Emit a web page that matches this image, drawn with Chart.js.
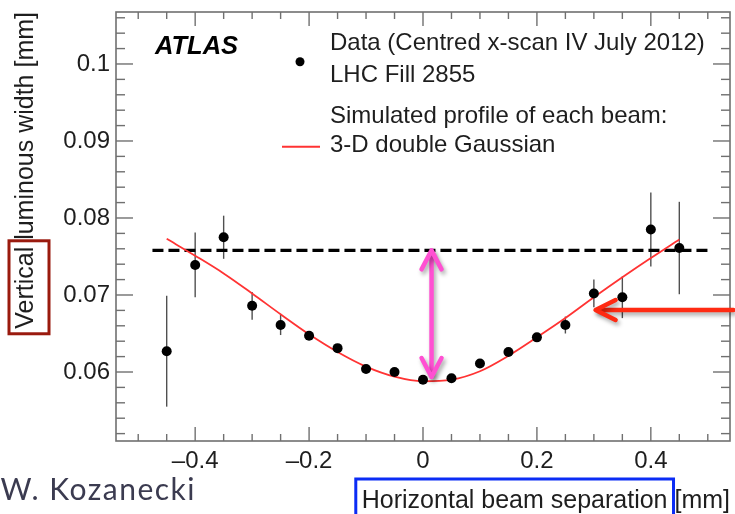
<!DOCTYPE html>
<html>
<head>
<meta charset="utf-8">
<script src="https://cdn.jsdelivr.net/npm/chart.js@4.4.1/dist/chart.umd.min.js"></script>
<style>
  html, body { margin: 0; padding: 0; background: #ffffff; }
  canvas { display: block; }
</style>
</head>
<body>
<canvas id="chart" width="735" height="514"></canvas>
<script>
// Horizontal beam separation of each scan step [mm]
const separation = [-0.45, -0.40, -0.35, -0.30, -0.25, -0.20, -0.15, -0.10, -0.05, 0.00,
                    0.05, 0.10, 0.15, 0.20, 0.25, 0.30, 0.35, 0.40, 0.45];
// Measured vertical luminous width [mm]
const measuredWidth = [0.0627, 0.0739, 0.0775, 0.0686, 0.0661, 0.0647, 0.0631, 0.0604, 0.0600, 0.0590,
                       0.0592, 0.0611, 0.0626, 0.0645, 0.0661, 0.0702, 0.0697, 0.0785, 0.0761];
// Statistical uncertainty on each measurement [mm]
const widthError = [0.0072, 0.0042, 0.0028, 0.0018, 0.0013, 0.0004, 0.0003, 0.0002, 0.0002, 0.0002,
                    0.0002, 0.0002, 0.0003, 0.0004, 0.0011, 0.0018, 0.0027, 0.0048, 0.0060];
// Simulated width for a 3-D double Gaussian beam profile [mm]
const simulatedWidth = [0.0773, 0.0751, 0.0728, 0.0702, 0.0675, 0.0649, 0.0626, 0.0607, 0.0594, 0.0588,
                        0.0590, 0.0601, 0.0621, 0.0645, 0.0670, 0.0697, 0.0723, 0.0748, 0.0772];
// Reference width level (dashed) and its extent in separation
const plateauSpan = [-0.475, 0.505];
const plateauLevel = 0.0758;
// Double arrow: drop of the width from the reference level to the minimum
const dropArrowX = 0.015;
const dropArrowRange = [0.0758, 0.05935];
// Pointer toward the simulated curve
const pointerX = [0.545, 0.303];
const pointerY = 0.06805;
// Labelled ticks
const xTickLabels = [-0.4, -0.2, 0, 0.2, 0.4];
const yTickLabels = [0.06, 0.07, 0.08, 0.09, 0.1];

const FONT = '"Liberation Sans", Arial, Helvetica, sans-serif';
const X_TITLE = 'Horizontal beam separation [mm]';
const Y_TITLE = 'Vertical luminous width [mm]';
const X_TITLE_SIZE = 25;
const Y_TITLE_SIZE = 25;

function fmtX(v) {
  const r = Math.round(v * 10) / 10;
  if (r === 0) return '0';
  return (r < 0 ? '\u2013' : '') + Math.abs(r).toString();
}
function fmtY(v) {
  return (Math.round(v * 100) / 100).toString();
}

function seg(ctx, x0, y0, x1, y1) {
  ctx.beginPath(); ctx.moveTo(x0, y0); ctx.lineTo(x1, y1); ctx.stroke();
}

function arrowHead(ctx, tx, ty, dirx, diry, back, spread) {
  // dir = unit vector pointing from the tip back along the shaft
  const px = -diry, py = dirx;
  ctx.beginPath();
  ctx.moveTo(tx + dirx * back + px * spread, ty + diry * back + py * spread);
  ctx.lineTo(tx, ty);
  ctx.lineTo(tx + dirx * back - px * spread, ty + diry * back - py * spread);
  ctx.stroke();
}

const decorations = {
  id: 'decorations',
  beforeDatasetsDraw(chart) {
    const { ctx, scales: { x, y } } = chart;
    ctx.save();
    ctx.strokeStyle = '#505050';
    ctx.lineWidth = 1.4;
    separation.forEach((sx, i) => {
      const px = x.getPixelForValue(sx);
      seg(ctx, px, y.getPixelForValue(measuredWidth[i] - widthError[i]),
               px, y.getPixelForValue(measuredWidth[i] + widthError[i]));
    });
    ctx.restore();
  },
  afterDraw(chart) {
    const { ctx, chartArea: a, scales: { x, y } } = chart;
    ctx.save();

    // Frame with inward ticks on all four sides
    ctx.strokeStyle = '#707070';
    ctx.lineWidth = 1.6;
    ctx.strokeRect(a.left, a.top, a.right - a.left, a.bottom - a.top);
    ctx.lineWidth = 1.4;
    const yMinor = 0.002, yMajor = 0.01;
    for (let k = Math.ceil(y.min / yMinor - 1e-6); k * yMinor <= y.max + 1e-9; k++) {
      const v = k * yMinor;
      const major = Math.abs(v / yMajor - Math.round(v / yMajor)) < 1e-6;
      const len = major ? 17 : 9;
      const py = y.getPixelForValue(v);
      seg(ctx, a.left, py, a.left + len, py);
      seg(ctx, a.right, py, a.right - len, py);
    }
    const xMinor = 0.05, xMajor = 0.2;
    for (let k = Math.ceil(x.min / xMinor - 1e-6); k * xMinor <= x.max + 1e-9; k++) {
      const v = k * xMinor;
      const major = Math.abs(v / xMajor - Math.round(v / xMajor)) < 1e-6;
      const len = major ? 14 : 7;
      const px = x.getPixelForValue(v);
      seg(ctx, px, a.bottom, px, a.bottom - len);
      seg(ctx, px, a.top, px, a.top + len);
    }

    // ATLAS label
    ctx.fillStyle = '#000';
    ctx.font = 'italic bold 25.5px ' + FONT;
    ctx.textBaseline = 'alphabetic';
    ctx.textAlign = 'left';
    ctx.fillText('ATLAS', 155, 54);

    // Legend
    ctx.font = '24px ' + FONT;
    ctx.fillStyle = '#1e1e1e';
    ctx.fillText('Data (Centred x-scan IV July 2012)', 330, 50);
    ctx.fillText('LHC Fill 2855', 330, 81.5);
    ctx.fillText('Simulated profile of each beam:', 330, 122.5);
    ctx.fillText('3-D double Gaussian', 330, 151.5);
    ctx.fillStyle = '#000';
    ctx.beginPath(); ctx.arc(300, 61.7, 4.5, 0, Math.PI * 2); ctx.fill();
    ctx.strokeStyle = '#ff3333';
    ctx.lineWidth = 2;
    seg(ctx, 282, 146.7, 320, 146.7);

    // Highlight box around "Vertical" in the y title
    ctx.font = Y_TITLE_SIZE + 'px ' + FONT;
    const wY = ctx.measureText(Y_TITLE).width;
    const wV = ctx.measureText('Vertical').width;
    const yStart = y.top + wY;
    ctx.strokeStyle = '#9a1a0e';
    ctx.lineWidth = 3;
    ctx.strokeRect(9, yStart - wV - 6, 40, wV + 11);

    // Highlight box around "Horizontal beam separation" in the x title
    ctx.font = X_TITLE_SIZE + 'px ' + FONT;
    const wX = ctx.measureText(X_TITLE).width;
    const wH = ctx.measureText('Horizontal beam separation').width;
    const xStart = x.right - wX;
    ctx.strokeStyle = '#0b2cf5';
    ctx.lineWidth = 3;
    ctx.strokeRect(xStart - 6, 479, wH + 12, 50);

    // Author
    ctx.font = '30px Lato, "Noto Sans", sans-serif';
    ctx.letterSpacing = '1.5px';
    ctx.fillStyle = '#3b3b50';
    ctx.textAlign = 'right';
    ctx.fillText('W. Kozanecki', 196, 500);
    ctx.letterSpacing = '0px';

    // Annotation arrows with a soft drop shadow
    ctx.shadowColor = 'rgba(0,0,0,0.35)';
    ctx.shadowBlur = 4;
    ctx.shadowOffsetX = 2;
    ctx.shadowOffsetY = 3;
    ctx.lineCap = 'round';
    ctx.lineJoin = 'round';

    const ax = x.getPixelForValue(dropArrowX);
    const ay0 = y.getPixelForValue(dropArrowRange[0]);
    const ay1 = y.getPixelForValue(dropArrowRange[1]);
    ctx.strokeStyle = '#ff50d2';
    ctx.lineWidth = 4.5;
    seg(ctx, ax, ay0 + 2, ax, ay1 - 2);
    arrowHead(ctx, ax, ay0, 0, 1, 19, 10);
    arrowHead(ctx, ax, ay1, 0, -1, 19, 10);

    const rx0 = x.getPixelForValue(pointerX[0]);
    const rx1 = x.getPixelForValue(pointerX[1]);
    const ry = y.getPixelForValue(pointerY);
    ctx.strokeStyle = '#ff2a12';
    ctx.lineWidth = 4.5;
    seg(ctx, rx0, ry, rx1 + 2, ry);
    arrowHead(ctx, rx1, ry, 1, 0, 20, 10);

    ctx.restore();
  }
};

new Chart(document.getElementById('chart').getContext('2d'), {
  data: {
    datasets: [
      {
        type: 'scatter',
        label: 'Data (Centred x-scan IV July 2012)',
        data: separation.map((sx, i) => ({ x: sx, y: measuredWidth[i] })),
        backgroundColor: '#000000',
        borderWidth: 0,
        pointRadius: 5,
        order: 0
      },
      {
        type: 'line',
        label: '3-D double Gaussian',
        data: separation.map((sx, i) => ({ x: sx, y: simulatedWidth[i] })),
        borderColor: '#ff3333',
        borderWidth: 1.8,
        pointRadius: 0,
        cubicInterpolationMode: 'monotone',
        fill: false,
        order: 1
      },
      {
        type: 'line',
        label: 'Reference level',
        data: plateauSpan.map(sx => ({ x: sx, y: plateauLevel })),
        borderColor: '#000000',
        borderWidth: 3.3,
        borderDash: [11, 5],
        pointRadius: 0,
        fill: false,
        order: 2
      }
    ]
  },
  options: {
    responsive: false,
    animation: false,
    events: [],
    layout: { padding: { left: 0, right: 2, top: 12, bottom: 0 } },
    plugins: { legend: { display: false }, tooltip: { enabled: false } },
    scales: {
      x: {
        type: 'linear',
        min: -0.539,
        max: 0.539,
        grid: { display: false, drawTicks: false },
        border: { display: false },
        afterBuildTicks: s => { s.ticks = xTickLabels.map(v => ({ value: v })); },
        afterFit: s => { s.height = 73; s.paddingLeft = 0; s.paddingRight = 0; },
        ticks: {
          autoSkip: false, maxRotation: 0, padding: 6,
          color: '#1e1e1e', font: { family: FONT, size: 24 },
          callback: v => fmtX(v)
        },
        title: {
          display: true, text: X_TITLE, align: 'end', color: '#1e1e1e',
          font: { family: FONT, size: X_TITLE_SIZE, lineHeight: 1 },
          padding: { top: 0, bottom: 0 }
        }
      },
      y: {
        type: 'linear',
        min: 0.05104,
        max: 0.10675,
        grid: { display: false, drawTicks: false },
        border: { display: false },
        afterBuildTicks: s => { s.ticks = yTickLabels.map(v => ({ value: v })); },
        afterFit: s => { s.width = 116; s.paddingTop = 0; s.paddingBottom = 0; },
        ticks: {
          autoSkip: false, padding: 6,
          color: '#1e1e1e', font: { family: FONT, size: 24 },
          callback: v => fmtY(v)
        },
        title: {
          display: true, text: Y_TITLE, align: 'end', color: '#1e1e1e',
          font: { family: FONT, size: Y_TITLE_SIZE, lineHeight: 1 },
          padding: { top: 14, bottom: 0 }
        }
      }
    }
  },
  plugins: [decorations]
});
</script>
</body>
</html>
